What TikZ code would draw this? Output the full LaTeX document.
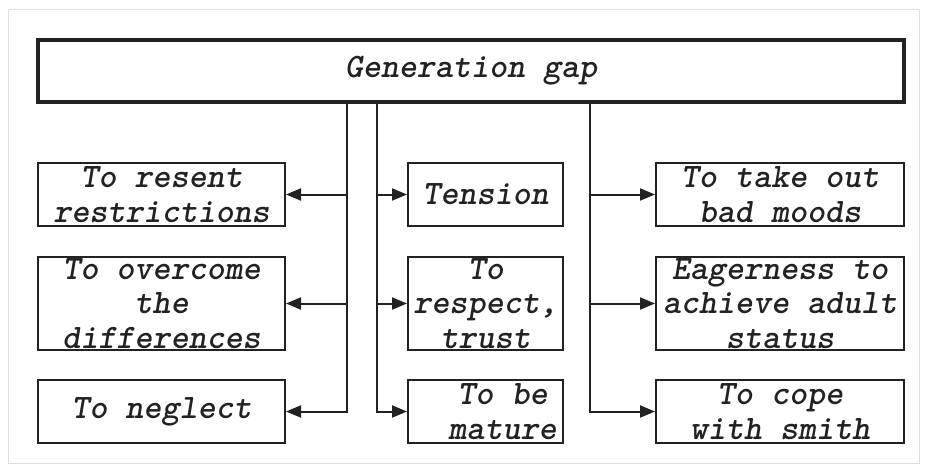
\documentclass[tikz,border=0pt]{standalone}
\usepackage{fontspec}
\usetikzlibrary{arrows.meta}
\definecolor{ink}{HTML}{222222}
\tikzset{
  boxnode/.style={draw=ink, line width=2pt, inner sep=0pt, rectangle},
  boxtext/.style={font=\ttfamily\bfseries\slshape\fontsize{34.3}{34.5}\selectfont, text=ink, align=center, inner sep=0pt},
  conn/.style={draw=ink, line width=2pt},
  arr/.style={conn, -{Triangle[length=15pt,width=12pt]}},
}
\begin{document}
\begin{tikzpicture}[x=1pt,y=-1pt]
\useasboundingbox (0,0) rectangle (925,468);
\draw[gray!25, line width=1pt] (8,10) rectangle (919,463);
% top
\node[boxnode, line width=3.5pt, minimum width=866pt, minimum height=62pt] (top) at (471,71) {};
\node[boxtext] (toptext) at (top.center) {Generation gap};
% left column
\node[boxnode, minimum width=247pt, minimum height=63pt] (l1) at (161.5,194.5) {};
\node[boxtext] at (l1.center) {To resent\\restrictions};
\node[boxnode, minimum width=247pt, minimum height=93pt] (l2) at (161.5,303.5) {};
\node[boxtext] at (l2.center) {To overcome\\the\\differences};
\node[boxnode, minimum width=247pt, minimum height=63pt] (l3) at (161.5,411.5) {};
\node[boxtext] at (l3.center) {To neglect};
% middle column
\node[boxnode, minimum width=155pt, minimum height=63pt] (m1) at (485.5,194.5) {};
\node[boxtext] at (m1.center) {Tension};
\node[boxnode, minimum width=155pt, minimum height=93pt] (m2) at (485.5,303.5) {};
\node[boxtext] at (m2.center) {To\\respect,\\trust};
\node[boxnode, minimum width=155pt, minimum height=63pt] (m3) at (485.5,411.5) {};
\node[boxtext, xshift=17pt] at (m3.center) {To be\\mature};
% right column
\node[boxnode, minimum width=248pt, minimum height=63pt] (r1) at (780,194.5) {};
\node[boxtext] at (r1.center) {To take out\\bad moods};
\node[boxnode, minimum width=248pt, minimum height=93pt] (r2) at (780,303.5) {};
\node[boxtext] at (r2.center) {Eagerness to\\achieve adult\\status};
\node[boxnode, minimum width=248pt, minimum height=63pt] (r3) at (780,411.5) {};
\node[boxtext] at (r3.center) {To cope\\with smith};
% junction columns
\coordinate (j1) at (347,102);
\coordinate (j2) at (377,102);
\coordinate (j3) at (590,102);
% connectors
\draw[arr] (top.south -| j1) -- (j1 |- l3.east) -- (l3.east);
\draw[arr] (j1 |- l1.east) -- (l1.east);
\draw[arr] (j1 |- l2.east) -- (l2.east);
\draw[arr] (top.south -| j2) -- (j2 |- m3.west) -- (m3.west);
\draw[arr] (j2 |- m1.west) -- (m1.west);
\draw[arr] (j2 |- m2.west) -- (m2.west);
\draw[arr] (top.south -| j3) -- (j3 |- r3.west) -- (r3.west);
\draw[arr] (j3 |- r1.west) -- (r1.west);
\draw[arr] (j3 |- r2.west) -- (r2.west);
\end{tikzpicture}
\end{document}
